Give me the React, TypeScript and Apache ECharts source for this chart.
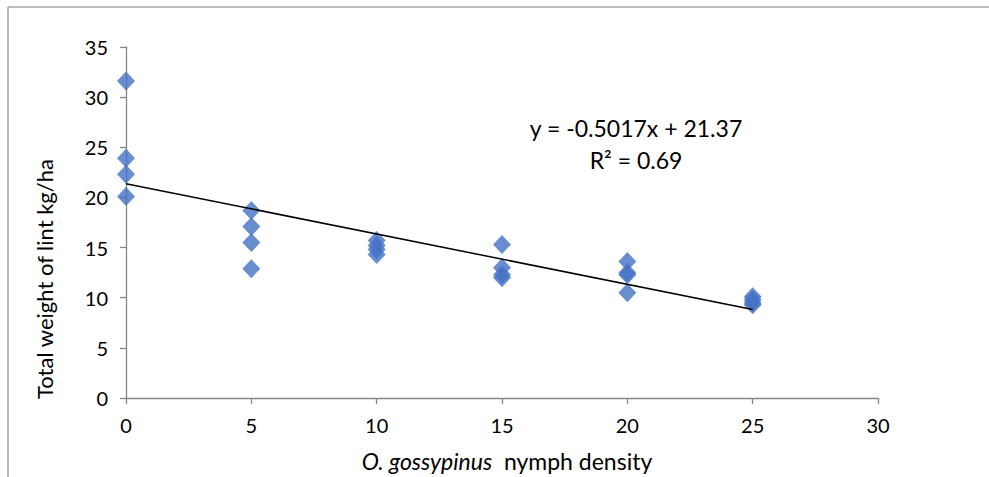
import React, { useEffect, useRef } from "react";
import * as echarts from "echarts";

// Nymph density (x) and total weight of lint (y)
const density = [0, 0, 0, 0, 5, 5, 5, 5, 10, 10, 10, 10, 15, 15, 15, 15, 20, 20, 20, 20, 25, 25, 25, 25];
const lint = [31.6, 23.9, 22.3, 20.1, 18.7, 17.1, 15.5, 12.9, 15.7, 15.2, 14.8, 14.3, 15.3, 13.0, 12.3, 12.0, 13.6, 12.5, 12.3, 10.5, 10.1, 9.8, 9.5, 9.3];
const slope = -0.5017;
const intercept = 21.37;
const fitRange = [0, 25];
const equationLines = ["y = -0.5017x + 21.37", "R² = 0.69"];
const xTitleItalic = "O. gossypinus";
const xTitleRest = "  nymph density";
const yTitle = "Total weight of lint kg/ha";

export default function App() {
  const ref = useRef<HTMLDivElement>(null);
  useEffect(() => {
    if (!ref.current) return;
    const chart = echarts.init(ref.current, undefined, { renderer: "svg" });
    const font = "Lato, 'Open Sans', sans-serif";
    const axisColor = "#868686";
    chart.setOption({
      animation: false,
      backgroundColor: "#ffffff",
      textStyle: { fontFamily: font },
      grid: { left: 126, right: 111, top: 47, bottom: 77 },
      xAxis: {
        type: "value",
        min: 0,
        max: 30,
        interval: 5,
        splitLine: { show: false },
        axisLine: { lineStyle: { color: axisColor, width: 1.3 } },
        axisTick: { show: true, length: 6, lineStyle: { color: axisColor, width: 1.3 } },
        axisLabel: { color: "#000", fontSize: 20, fontFamily: font, margin: 17 },
        name: `{i|${xTitleItalic}}{n|${xTitleRest}}`,
        nameLocation: "middle",
        nameGap: 51,
        nameTextStyle: {
          padding: [0, 0, 0, 10],
          rich: {
            i: { fontStyle: "italic", fontSize: 23, fontFamily: font, color: "#000" },
            n: { fontSize: 23, fontFamily: font, color: "#000" },
          },
        },
      },
      yAxis: {
        type: "value",
        min: 0,
        max: 35,
        interval: 5,
        splitLine: { show: false },
        axisLine: { show: true, lineStyle: { color: axisColor, width: 1.3 } },
        axisTick: { show: true, length: 6, lineStyle: { color: axisColor, width: 1.3 } },
        axisLabel: { color: "#000", fontSize: 20, fontFamily: font, margin: 18 },
      },
      series: [
        {
          type: "line",
          data: fitRange.map((x) => [x, intercept + slope * x]),
          showSymbol: false,
          symbol: "none",
          lineStyle: { color: "#000", width: 1.5 },
          z: 3,
        },
        {
          type: "scatter",
          data: density.map((x, i) => [x, lint[i]]),
          symbol: "diamond",
          symbolSize: [18, 19],
          itemStyle: { color: "#4472C4" },
          z: 2,
        },
      ],
      graphic: [
        { type: "line", shape: { x1: 8, y1: 7, x2: 989, y2: 7 }, style: { stroke: "#a6a6a6", lineWidth: 1.5 } },
        { type: "line", shape: { x1: 8, y1: 7, x2: 8, y2: 477 }, style: { stroke: "#a6a6a6", lineWidth: 1.5 } },
        {
          type: "text",
          x: 44,
          y: 279,
          rotation: Math.PI / 2,
          style: { text: yTitle, fontSize: 22, fontFamily: font, fill: "#000", textAlign: "center", textVerticalAlign: "middle" },
        },
        {
          type: "text",
          x: 636,
          y: 128,
          style: { text: equationLines[0], fontSize: 23, fontFamily: font, fill: "#000", textAlign: "center", textVerticalAlign: "middle" },
        },
        {
          type: "text",
          x: 636,
          y: 160,
          style: { text: equationLines[1], fontSize: 23, fontFamily: font, fill: "#000", textAlign: "center", textVerticalAlign: "middle" },
        },
      ],
    });
    return () => chart.dispose();
  }, []);
  return <div ref={ref} style={{ position: "fixed", left: 0, top: 0, width: 989, height: 477 }} />;
}
